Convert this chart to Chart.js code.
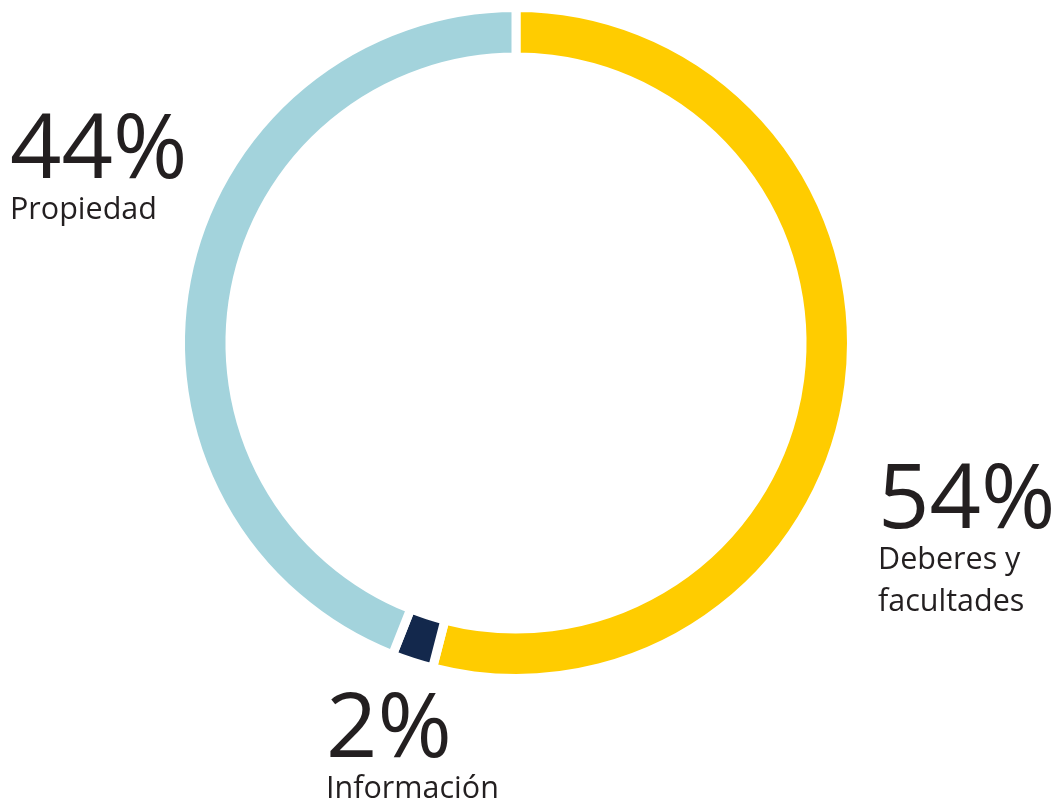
<!doctype html>
<html>
  <head>
    <meta charset="UTF-8">
    <title>Distribución</title>
    <script src="https://cdn.jsdelivr.net/npm/chart.js"></script>
    <style>
      html, body { margin: 0; padding: 0; background: #fff; }
      #wrap { width: 1056px; height: 804px; position: relative; }
    </style>
  </head>
  <body>
    <div id="wrap"><canvas id="donut"></canvas></div>
    <script>
      const categories = ['Deberes y facultades', 'Información', 'Propiedad'];
      const labelLines = [['Deberes y', 'facultades'], ['Información'], ['Propiedad']];
      const values = [54, 2, 44];
      const colors = ['#ffcc00', '#13284c', '#a3d3dc'];

      // where each label sits (left x, baseline of the big number)
      const labelSpots = [
        { x: 878, y: 528 },
        { x: 326, y: 757 },
        { x: 10, y: 178 }
      ];

      const bigLabels = {
        id: 'bigLabels',
        afterDraw(chart) {
          const ctx = chart.ctx;
          ctx.save();
          ctx.fillStyle = '#231f20';
          ctx.textAlign = 'left';
          ctx.textBaseline = 'alphabetic';
          values.forEach((v, i) => {
            const p = labelSpots[i];
            ctx.font = '400 90px "Open Sans"';
            ctx.fillText(v + '%', p.x, p.y);
            ctx.font = '400 30.5px "Open Sans"';
            labelLines[i].forEach((line, j) => {
              ctx.fillText(line, p.x, p.y + 41 + j * 42);
            });
          });
          ctx.restore();
        }
      };

      new Chart(document.getElementById('donut'), {
        type: 'doughnut',
        data: {
          labels: categories,
          datasets: [{
            data: values,
            backgroundColor: colors,
            borderColor: '#ffffff',
            borderWidth: 9,
            hoverOffset: 0
          }]
        },
        options: {
          responsive: true,
          maintainAspectRatio: false,
          animation: false,
          radius: 335.5,
          cutout: '85.25%',
          layout: {
            padding: { left: 176, right: 200, top: 3, bottom: 121 }
          },
          plugins: {
            legend: { display: false },
            tooltip: { enabled: false }
          }
        },
        plugins: [bigLabels]
      });
    </script>
  </body>
</html>
